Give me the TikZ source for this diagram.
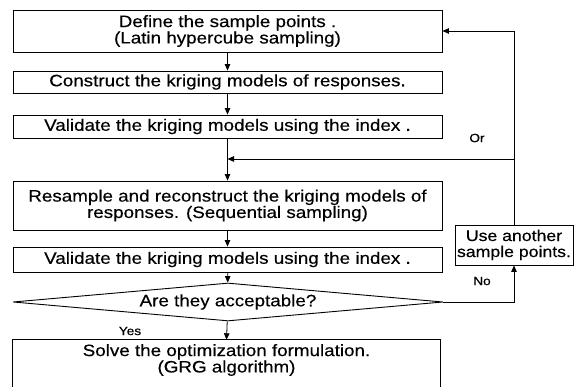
\documentclass[tikz,border=0pt]{standalone}
\usepackage{fontspec}
\setmainfont{Liberation Sans}[FakeStretch=1.14,FakeBold=0.4]
\usetikzlibrary{shapes.geometric,arrows.meta}

\begin{document}
\begin{tikzpicture}[x=1pt,y=-1pt,
  every node/.style={font=\fontsize{16.5}{14.5}\selectfont, align=center, inner sep=0pt},
  stepbox/.style={draw, line width=0.9pt, minimum width=429pt},
  flow/.style={line width=0.8pt, -{Triangle[length=6.5pt,width=5.5pt]}},
  small/.style={font=\fontsize{12}{14}\selectfont}]
\useasboundingbox (0,0) rectangle (579,387);

% main chain of steps
\node[stepbox, minimum height=42pt] (b1) at (227.5,31) {Define the sample points .\\(Latin hypercube sampling)};
\node[stepbox, minimum height=22pt] (b2) at (227.5,82) {Construct the kriging models of responses.};
\node[stepbox, minimum height=23pt] (b3) at (227.5,126.5) {Validate the kriging models using the index .};
\node[stepbox, minimum height=49pt] (b4) at (227.5,205.5) {Resample and reconstruct the kriging models of\\responses. (Sequential sampling)};
\node[stepbox, minimum height=25pt] (b5) at (227.5,259.5) {Validate the kriging models using the index .};
\node[diamond, draw, line width=0.9pt, shape aspect=11, minimum width=430pt, minimum height=38pt] (dm) at (228,302) {Are they acceptable?};
\node[minimum width=427pt, minimum height=40pt] (b6) at (226.5,360) {Solve the optimization formulation.\\(GRG algorithm)};
\draw[line width=0.9pt] ([yshift=-12pt]b6.south west) -- (b6.north west) -- (b6.north east) -- ([yshift=-12pt]b6.south east);

% side box
\node[draw, line width=0.9pt, minimum width=118pt, minimum height=40pt, font=\fontsize{15.5}{16}\selectfont] (ua) at (514,245) {Use another\\sample points.};

% connectors
\draw[flow] (b1) -- (b2);
\draw[flow] (b2) -- (b3);
\draw[flow] (b3) -- (b4);
\draw[flow] (b4) -- (b5);
\draw[flow] (b5) -- (dm);
\draw[flow] (dm) -- (b6.north);

\coordinate (join) at (514,159);
\coordinate (merge) at (227.5,159);
\draw[flow] (ua.north) |- (b1.east);
\draw[flow] (join) -- (merge);
\draw[flow] (dm.east) -| (ua.south);

% labels
\node[small] (or) at (477,138) {Or};
\node[small] (no) at (482,281) {No};
\node[small] (yes) at (130,331) {Yes};
\end{tikzpicture}
\end{document}
